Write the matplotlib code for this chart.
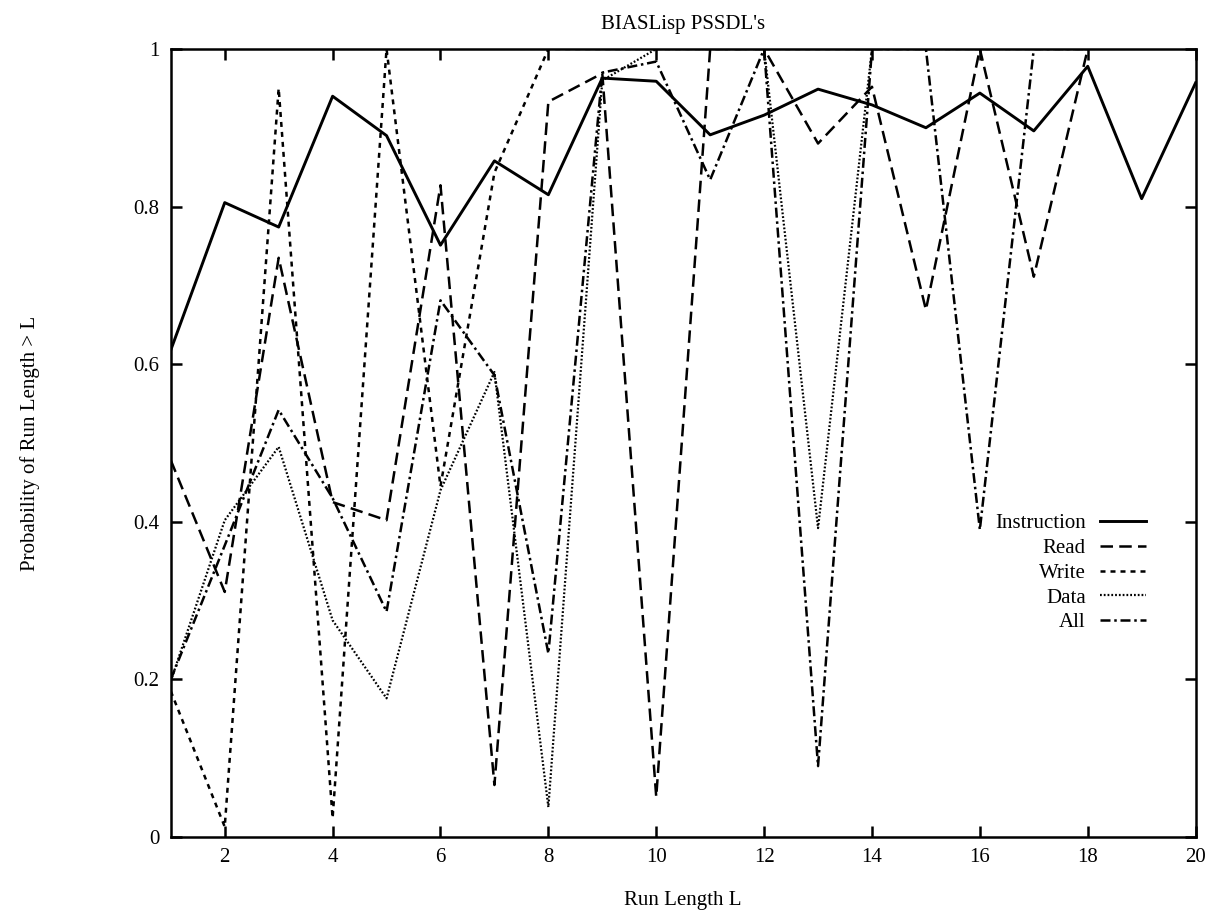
import matplotlib.pyplot as plt
import numpy as np

plt.rcParams['font.family'] = ['Liberation Serif', 'DejaVu Serif']

# Run length L
run_length = np.arange(1, 21)

instruction = [0.618, 0.805, 0.774, 0.940, 0.890, 0.751, 0.858, 0.815, 0.963, 0.959,
               0.891, 0.916, 0.949, 0.929, 0.900, 0.944, 0.896, 0.978, 0.810, 0.957]
read = [0.478, 0.311, 0.735, 0.425, 0.402, 0.827, 0.066, 0.933, 0.969, 0.051,
        1.0, 1.0, 0.880, 0.952, 0.669, 1.0, 0.711, 1.0]
write = [0.185, 0.013, 0.950, 0.024, 1.0, 0.445, 0.843, 1.0, 1.0, 1.0,
         1.0, 1.0, 1.0, 1.0, 1.0, 1.0, 1.0, 1.0]
data = [0.198, 0.402, 0.495, 0.275, 0.176, 0.440, 0.590, 0.038, 0.960, 1.0,
        1.0, 1.0, 0.392, 1.0, 1.0, 1.0, 1.0, 1.0]
all_refs = [0.200, 0.370, 0.542, 0.430, 0.286, 0.681, 0.586, 0.233, 0.970, 0.984,
            0.834, 1.0, 0.090, 1.0, 1.0, 0.390, 1.0, 1.0]

fig = plt.figure(figsize=(12.2, 9.13), dpi=100)
ax = fig.add_axes([0.140, 0.0832, 0.840, 0.8632])

lw = 1.8
ax.plot(run_length, instruction, color='black', lw=2.1, linestyle='-', label='Instruction')
ax.plot(run_length[:len(read)], read, color='black', lw=lw,
        linestyle=(0, (5, 2.5)), label='Read')
ax.plot(run_length[:len(write)], write, color='black', lw=lw,
        linestyle=(0, (2, 2)), label='Write')
ax.plot(run_length[:len(data)], data, color='black', lw=1.6,
        linestyle=(0, (0.8, 0.9)), label='Data')
ax.plot(run_length[:len(all_refs)], all_refs, color='black', lw=lw,
        linestyle=(0, (4, 1.5, 1, 1.5)), label='All')

ax.set_xlim(1, 20)
ax.set_ylim(0, 1)
ax.set_xticks(np.arange(2, 21, 2))
ax.set_yticks([0, 0.2, 0.4, 0.6, 0.8, 1.0])
ax.set_yticklabels(['0', '0.2', '0.4', '0.6', '0.8', '1'])
ax.tick_params(direction='in', length=8, width=1.8, top=True, right=True,
               labelsize=15, pad=8)

for spine in ax.spines.values():
    spine.set_linewidth(1.8)

ax.set_title("BIASLisp PSSDL's", fontsize=15, pad=14)
ax.set_xlabel('Run Length L', fontsize=15)
ax.set_ylabel('Probability of Run Length > L', fontsize=15)
ax.xaxis.set_label_coords(0.5, -0.069)
ax.yaxis.set_label_coords(-0.128, 0.5)

ax.legend(loc='center right', bbox_to_anchor=(0.97, 0.335), frameon=False,
          markerfirst=False, fontsize=15, handlelength=2.2, handletextpad=0.7,
          labelspacing=0.25)

fig.savefig('out.png', dpi=100)
